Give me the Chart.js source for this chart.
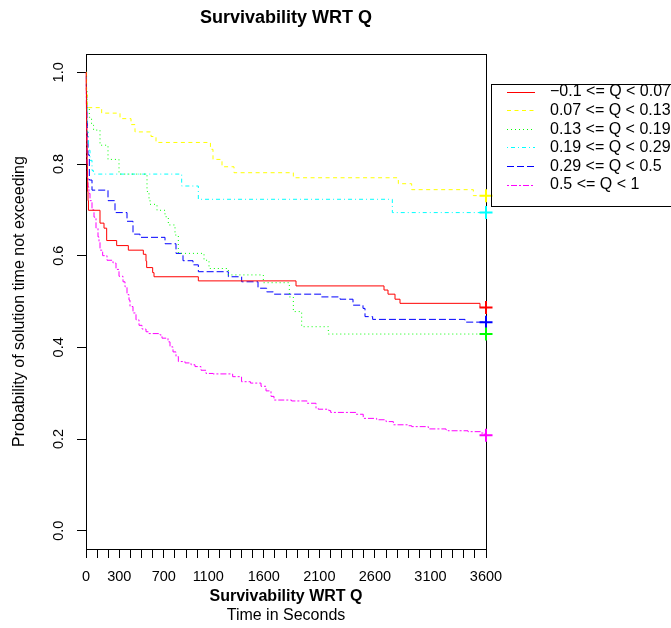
<!DOCTYPE html>
<html>
<head>
<meta charset="utf-8">
<script src="https://cdn.jsdelivr.net/npm/chart.js@4.4.0/dist/chart.umd.min.js"></script>
<style>
  html, body { margin: 0; padding: 0; background: #fff; }
  canvas { display: block; }
</style>
</head>
<body>
<canvas id="myChart" width="671" height="628"></canvas>
<script>
// Kaplan-Meier style curves (time in seconds, survival prob)
const redT = [0, 2, 4, 6, 8, 10, 12, 15, 18, 22, 126, 162, 186, 276, 381, 516, 540, 546, 600, 612, 1011, 1890, 2682, 2718, 2781, 2826, 3546, 3600];
const redS = [1, 0.96, 0.92, 0.88, 0.84, 0.80, 0.77, 0.74, 0.72, 0.699, 0.671, 0.660, 0.633, 0.622, 0.612, 0.603, 0.588, 0.574, 0.563, 0.554, 0.545, 0.534, 0.525, 0.516, 0.505, 0.496, 0.487, 0.487];

const yellowT = [0, 5, 10, 141, 306, 405, 441, 585, 630, 1120, 1143, 1224, 1332, 1866, 2811, 2931, 3486, 3600];
const yellowS = [1, 0.96, 0.923, 0.911, 0.899, 0.886, 0.870, 0.860, 0.847, 0.832, 0.810, 0.794, 0.781, 0.770, 0.757, 0.744, 0.731, 0.731];

const greenT = [0, 5, 10, 30, 50, 68, 126, 198, 297, 549, 567, 576, 639, 711, 741, 801, 831, 1062, 1107, 1281, 1596, 1830, 1866, 1941, 2181, 3600];
const greenS = [1, 0.96, 0.92, 0.902, 0.885, 0.874, 0.841, 0.810, 0.778, 0.740, 0.725, 0.712, 0.699, 0.685, 0.667, 0.645, 0.605, 0.590, 0.572, 0.558, 0.541, 0.510, 0.478, 0.445, 0.429, 0.429];

const cyanT = [0, 5, 10, 20, 36, 54, 66, 861, 1011, 2757, 3600];
const cyanS = [1, 0.93, 0.87, 0.83, 0.808, 0.786, 0.778, 0.752, 0.723, 0.694, 0.694];

const blueT = [0, 4, 8, 12, 18, 30, 54, 198, 261, 369, 423, 486, 711, 810, 873, 963, 1011, 1281, 1401, 1548, 1626, 1686, 2115, 2286, 2403, 2493, 2511, 2580, 3411, 3600];
const blueS = [1, 0.95, 0.90, 0.86, 0.82, 0.765, 0.743, 0.720, 0.694, 0.675, 0.647, 0.640, 0.626, 0.605, 0.589, 0.580, 0.565, 0.554, 0.543, 0.529, 0.521, 0.516, 0.510, 0.505, 0.492, 0.485, 0.467, 0.461, 0.455, 0.455];

const magentaT = [0, 3, 6, 9, 12, 18, 27, 36, 54, 72, 90, 108, 117, 126, 150, 189, 243, 270, 297, 333, 351, 369, 387, 396, 423, 450, 477, 504, 540, 560, 666, 684, 738, 756, 783, 810, 831, 891, 945, 981, 1035, 1080, 1143, 1320, 1400, 1480, 1575, 1620, 1665, 1692, 1850, 1990, 2070, 2090, 2185, 2202, 2430, 2495, 2616, 2700, 2766, 2900, 2931, 3081, 3240, 3258, 3438, 3550, 3590, 3600];
const magentaS = [1, 0.93, 0.86, 0.80, 0.77, 0.75, 0.736, 0.72, 0.70, 0.684, 0.66, 0.641, 0.63, 0.612, 0.60, 0.59, 0.584, 0.57, 0.555, 0.543, 0.532, 0.515, 0.503, 0.489, 0.475, 0.46, 0.448, 0.44, 0.434, 0.43, 0.427, 0.42, 0.412, 0.401, 0.39, 0.38, 0.369, 0.366, 0.362, 0.358, 0.35, 0.343, 0.342, 0.336, 0.325, 0.322, 0.315, 0.305, 0.293, 0.285, 0.283, 0.278, 0.267, 0.265, 0.262, 0.258, 0.254, 0.245, 0.242, 0.238, 0.231, 0.229, 0.227, 0.222, 0.22, 0.218, 0.216, 0.213, 0.208, 0.208];

const groupLabels = ["\u22120.1 <= Q < 0.07", "0.07 <= Q < 0.13", "0.13 <= Q < 0.19", "0.19 <= Q < 0.29", "0.29 <= Q < 0.5", "0.5 <= Q < 1"];
const xTickLabels = [0, 300, 700, 1100, 1600, 2100, 2600, 3100, 3600];
const yTickVals = [0, 0.2, 0.4, 0.6, 0.8, 1.0];

const FONT = '"Liberation Sans", Arial, Helvetica, sans-serif';
Chart.defaults.font.family = FONT;
Chart.defaults.color = "#000";

function series(label, times, surv, color, dash) {
  return {
    label: label,
    data: times.map((t, i) => ({ x: t, y: surv[i] })),
    borderColor: color,
    backgroundColor: color,
    borderWidth: 1,
    borderDash: dash,
    stepped: true,
    tension: 0,
    fill: false,
    clip: false,
    pointStyle: "cross",
    pointRadius: (ctx) => (ctx.dataIndex === times.length - 1 ? 6.5 : 0),
    pointHoverRadius: 0,
    pointBorderWidth: 2,
    pointBorderColor: color,
  };
}

const data = {
  datasets: [
    series(groupLabels[0], redT, redS, "#FF0000", []),
    series(groupLabels[1], yellowT, yellowS, "#FFFF00", [4, 3.5]),
    series(groupLabels[2], greenT, greenS, "#00FF00", [1, 3]),
    series(groupLabels[3], cyanT, cyanS, "#00FFFF", [1, 3, 4, 3]),
    series(groupLabels[4], blueT, blueS, "#0000FF", [7, 3]),
    series(groupLabels[5], magentaT, magentaS, "#FF00FF", [2, 2, 6, 2]),
  ],
};

// box, rotated y labels, titles and legend, the R way
const rDecor = {
  id: "rDecor",
  beforeDatasetsDraw(chart) {
    const ctx = chart.ctx;
    const a = chart.chartArea;
    ctx.save();
    ctx.strokeStyle = "#000";
    ctx.lineWidth = 1;
    ctx.setLineDash([]);
    const l = Math.round(a.left) + 0.5, t = Math.round(a.top) + 0.5;
    const r = Math.round(a.right) + 0.5, b = Math.round(a.bottom) + 0.5;
    ctx.strokeRect(l, t, r - l, b - t);
    ctx.restore();
  },
  afterDraw(chart) {
    const ctx = chart.ctx;
    const a = chart.chartArea;
    const ys = chart.scales.y;
    ctx.save();
    ctx.fillStyle = "#000";
    ctx.strokeStyle = "#000";
    ctx.lineWidth = 1;
    ctx.textAlign = "center";
    ctx.textBaseline = "middle";
    ctx.font = "14.5px " + FONT;
    yTickVals.forEach((v) => {
      ctx.save();
      ctx.translate(59, ys.getPixelForValue(v));
      ctx.rotate(-Math.PI / 2);
      ctx.fillText(v.toFixed(1), 0, 0);
      ctx.restore();
    });

    const midX = (a.left + a.right) / 2;
    const midY = (a.top + a.bottom) / 2;
    ctx.font = "bold 18px " + FONT;
    ctx.fillText("Survivability WRT Q", midX, 18);
    ctx.font = "bold 16px " + FONT;
    ctx.fillText("Survivability WRT Q", midX, 597);
    ctx.font = "16px " + FONT;
    ctx.fillText("Time in Seconds", midX, 616);
    ctx.save();
    ctx.translate(20, midY);
    ctx.rotate(-Math.PI / 2);
    ctx.fillText("Probability of solution time not exceeding", 0, 0);
    ctx.restore();

    // legend
    ctx.strokeRect(491.5, 84.5, 200, 122);
    ctx.textAlign = "left";
    chart.data.datasets.forEach((ds, i) => {
      const y = 91.5 + i * 18.6;
      ctx.strokeStyle = ds.borderColor;
      ctx.setLineDash(ds.borderDash);
      ctx.beginPath();
      ctx.moveTo(507, Math.round(y) + 0.5);
      ctx.lineTo(535, Math.round(y) + 0.5);
      ctx.stroke();
      ctx.setLineDash([]);
      ctx.fillStyle = "#000";
      ctx.fillText(ds.label, 550, y + 0.5);
    });
    ctx.restore();
  },
};

const config = {
  type: "line",
  data,
  options: {
    responsive: false,
    animation: false,
    devicePixelRatio: 1,
    layout: { padding: { left: 0, top: 54, right: 185, bottom: 0 } },
    plugins: { legend: { display: false }, tooltip: { enabled: false } },
    scales: {
      x: {
        type: "linear",
        min: 0,
        max: 3600,
        afterBuildTicks: (scale) => {
          const ticks = [];
          for (let v = 0; v <= 3600; v += 100) ticks.push({ value: v });
          scale.ticks = ticks;
        },
        afterFit: (scale) => { scale.height = 79; },
        ticks: {
          autoSkip: false,
          maxRotation: 0,
          minRotation: 0,
          padding: 10,
          color: "#000",
          font: { size: 14.5 },
          callback: (v) => (xTickLabels.includes(v) ? String(v) : ""),
        },
        grid: { drawOnChartArea: false, drawTicks: true, tickLength: 9, color: "#000" },
        border: { display: false },
      },
      y: {
        min: -0.04,
        max: 1.04,
        afterBuildTicks: (scale) => { scale.ticks = yTickVals.map((v) => ({ value: v })); },
        afterFit: (scale) => { scale.width = 86; },
        ticks: { display: false },
        grid: { drawOnChartArea: false, drawTicks: true, tickLength: 9, color: "#000" },
        border: { display: false },
      },
    },
  },
  plugins: [rDecor],
};

const myChart = new Chart(document.getElementById("myChart"), config);
</script>
</body>
</html>
